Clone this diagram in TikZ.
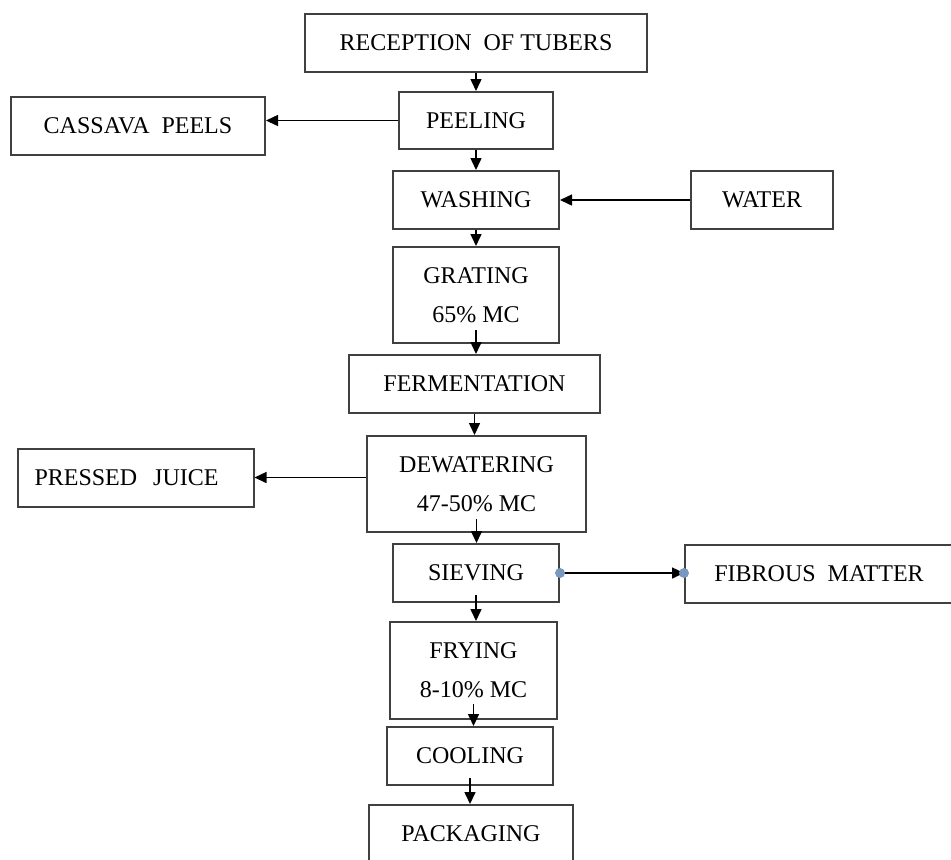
\documentclass[tikz,border=0pt]{standalone}
\usepackage{fontspec}
\setmainfont{Liberation Serif}
\usetikzlibrary{arrows.meta,calc}
\definecolor{dotblue}{HTML}{7A97BF}

\begin{document}
\begin{tikzpicture}
        [x=0.5pt, y=-0.5pt,
          element/.style={draw=black!75, line width=1pt, minimum height=29pt,
            font=\fontsize{12}{19.5}\selectfont, align=center, inner sep=2pt},
          flow/.style={-{Triangle[length=6pt,width=5.5pt]}, line width=0.75pt},
          joint/.style={circle, fill=dotblue, inner sep=0pt, minimum size=5pt}]
        \clip (0,0) rectangle (951,859);
        % main line
        \node[element, minimum width=171pt] (rec) at (476,42.5) {RECEPTION\ \ OF TUBERS};
        \node[element, minimum width=77pt, minimum height=28.5pt] (peel) at (476,120.5) {PEELING};
        \node[element, minimum width=83pt] (wash) at (476,200) {WASHING};
        \node[element, minimum width=83pt, minimum height=48pt] (grat) at (476,295) {GRATING\\65\% MC};
        \node[element, minimum width=125.5pt] (ferm) at (474.5,384) {FERMENTATION};
        \node[element, minimum width=109.5pt, minimum height=48pt] (dew) at (476.5,484) {DEWATERING\\47-50\% MC};
        \node[element, minimum width=83pt] (siev) at (476,573) {SIEVING};
        \node[element, minimum width=83.5pt, minimum height=48.5pt] (fry) at (473.5,670.5) {FRYING\\8-10\% MC};
        \node[element, minimum width=83pt] (cool) at (470,756) {COOLING};
        \node[element, minimum width=102pt] (pack) at (471,834) {PACKAGING};
        % side streams
        \node[element, minimum width=127pt] (cas) at (138,126) {CASSAVA\ \ PEELS};
        \node[element, minimum width=71pt] (wat) at (762,200) {WATER};
        \node[element, minimum width=117.5pt, text width=101pt, align=left, inner xsep=8.5pt] (juice) at (135.5,477.5) {PRESSED\ \ JUICE};
        \node[element, minimum width=134pt] (fib) at (819,574) {FIBROUS\ \ MATTER};

        \foreach \a/\b/\e in {rec/peel/0pt, peel/wash/0pt, wash/grat/0pt, grat/ferm/7pt, ferm/dew/0pt,
            dew/siev/7pt, siev/fry/4pt, fry/cool/8pt, cool/pack/4pt}
          \draw[flow] ([yshift=\e]\a.south) -- (\a.south |- \b.north);

        \draw[flow] (peel.west) -- (peel.west -| cas.east);
        \draw[flow] (wat.west) -- (wat.west -| wash.east);
        \draw[flow] (juice.east -| dew.west) -- (juice.east);
        \draw[flow] (siev.east) -- (siev.east -| fib.west);
        \node[joint] (sdot) at (siev.east) {};
        \node[joint] (fdot) at (siev.east -| fib.west) {};
\end{tikzpicture}
\end{document}
